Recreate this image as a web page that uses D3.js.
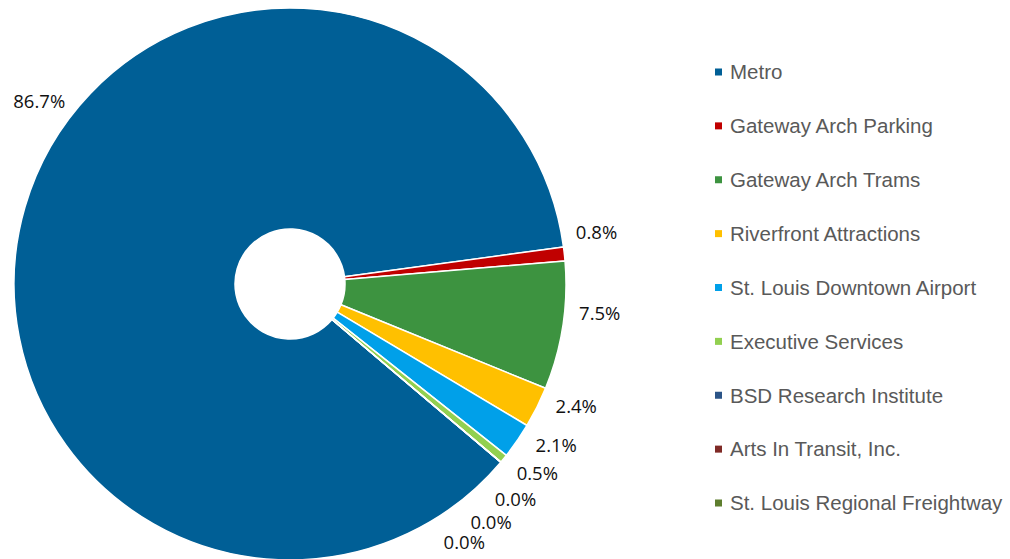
<!DOCTYPE html>
<html><head><meta charset="utf-8">
<script src="https://cdn.jsdelivr.net/npm/d3@7"></script>
<style>html,body{margin:0;padding:0;background:#fff;}</style>
</head><body>
<svg id="chart" width="1010" height="559"></svg>
<script>
const categories = ["Metro","Gateway Arch Parking","Gateway Arch Trams","Riverfront Attractions","St. Louis Downtown Airport","Executive Services","BSD Research Institute","Arts In Transit, Inc.","St. Louis Regional Freightway"];
const shares = [86.7, 0.8, 7.5, 2.4, 2.1, 0.5, 0.0, 0.0, 0.0];
const colors = ["#005F96","#C00000","#3D9340","#FFC000","#00A0E9","#92D050","#2B5487","#7F2A26","#5E7E2E"];

const svg = d3.select("#chart");
const cx = 290, cy = 284, R = 276, r0 = 55, labelR = 311;
const start = 130.2 * Math.PI / 180;

const pie = d3.pie().sort(null).value(d => d.v).startAngle(start).endAngle(start + 2*Math.PI);
const data = categories.map((c,i) => ({c, v: shares[i], col: colors[i]}));
const arcs = pie(data);
const arc = d3.arc().innerRadius(r0).outerRadius(R);

const g = svg.append("g").attr("transform", `translate(${cx},${cy})`);
g.selectAll("path").data(arcs).join("path")
  .attr("d", arc).attr("fill", d => d.data.col)
  .attr("stroke", "#fff").attr("stroke-width", 1.5).attr("stroke-linejoin","round");

// labels
const fmt = d3.format(".1f");
let prev = -Infinity;
const deg = Math.PI/180;
arcs.forEach((a, i) => {
  let mid = (a.startAngle + a.endAngle)/2;
  let ang;
  if (i === 0) {
    ang = mid;
    while (cx + labelR*Math.sin(ang) - 29 < 10) ang += deg;
  } else {
    ang = Math.max(mid - 3.5*deg, prev + 6.2*deg);
    prev = ang;
  }
  const x = labelR*Math.sin(ang), y = -labelR*Math.cos(ang);
  g.append("text").attr("x", x).attr("y", y)
    .attr("text-anchor","middle").attr("dominant-baseline","central")
    .attr("font-family","'Open Sans', sans-serif").attr("font-size", 18.5).attr("fill","#111")
    .text(fmt(a.data.v) + "%");
});

// legend
const ly = d3.scalePoint().domain(categories).range([72, 503]);
const lg = svg.append("g");
const items = lg.selectAll("g").data(data).join("g").attr("transform", d => `translate(715,${ly(d.c)})`);
items.append("rect").attr("x",0).attr("y",-3.5).attr("width",7).attr("height",7).attr("fill", d => d.col);
items.append("text").attr("x",15).attr("y",7.3)
  .attr("font-family","'Liberation Sans', Arial, sans-serif").attr("font-size",20.5).attr("fill","#595959")
  .text(d => d.c);
</script>
</body></html>
